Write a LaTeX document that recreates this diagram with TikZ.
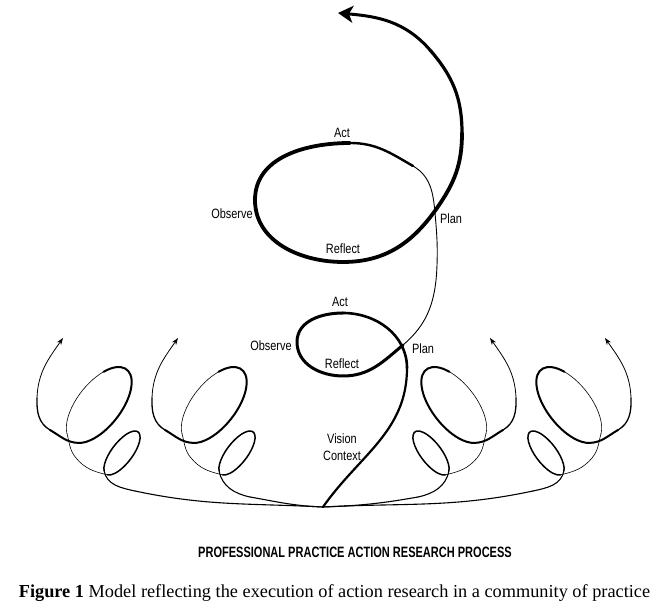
\documentclass[tikz,border=0pt]{standalone}
\usepackage{fontspec}
\setmainfont{Liberation Serif}
\newfontfamily\lab[FakeStretch=0.81]{Liberation Sans}
\newfontfamily\ttl[FakeStretch=0.735]{Liberation Sans}
\usetikzlibrary{arrows.meta}
\tikzset{
  lbl/.style={font=\lab\fontsize{13.5}{15}\selectfont, inner sep=0pt},
  ttlstyle/.style={font=\ttl\bfseries\fontsize{15}{17}\selectfont, inner sep=0pt},
  capstyle/.style={font=\fontsize{18.3}{20}\selectfont, inner sep=0pt},
  curve/.style={line cap=round, line join=round},
  smallhead/.style={-{Stealth[length=7pt,width=5pt]}},
  bighead/.style={-{Stealth[length=15pt,width=17pt,inset=4pt]}}
}
\newcommand\sidespiral{%
  % lower loop (tilted ellipse)
  \begin{scope}[shift={(122,156)},rotate=52.7]
    \coordinate (lA) at (160:26.5pt and 10.5pt);
    \coordinate (lB) at (-170:26.5pt and 10.5pt);
    \draw[curve, line width=1.5pt] (lA) arc[start angle=160,end angle=-170,x radius=26.5pt,y radius=10.5pt];
  \end{scope}
  % upper loop (tilted ellipse)
  \begin{scope}[shift={(99,204)},rotate=52]
    \coordinate (uA) at (160:45pt and 22pt);
    \coordinate (uB) at (50:45pt and 22pt);
    \coordinate (uC) at (-160:45pt and 22pt);
    \draw[curve, line width=0.6pt] (uA) arc[start angle=160,end angle=50,x radius=45pt,y radius=22pt];
    \draw[curve, line width=2pt] (uB) arc[start angle=50,end angle=-160,x radius=45pt,y radius=22pt];
  \end{scope}
  \draw[curve, line width=1.1pt] (tl) to[out=168,in=280] (lA);
  \draw[curve, line width=0.6pt] (lB) to[out=167,in=-50] (76,151) to[out=130,in=285] (uA);
  \draw[curve, line width=2pt] (uC) to[out=178.6,in=-30] (50,179);
  \draw[curve, line width=1.3pt] (50,179) to[out=150,in=268] (37,211);
  \draw[curve, line width=0.8pt, smallhead] (37,211) to[out=88,in=235] (63,271);
}
\begin{document}
\begin{tikzpicture}[x=1pt,y=1pt]
\useasboundingbox (0,0) rectangle (653,609);
\fill[white] (0,0) rectangle (653,609);
\coordinate (P) at (323,102);

% main spiral
\draw[curve, line width=2.2pt] (P) to[out=55,in=270] (407,241);
\draw[curve, line width=2.6pt] (407,241) to[out=90,in=0] (343,296);
\draw[curve, line width=3pt] (343,296) to[out=180,in=90] (297,267) to[out=270,in=180] (343,233) to[out=0,in=220] (403,264);
\draw[curve, line width=0.9pt] (403,264) to[out=40,in=268] (437,344) to[out=88,in=275] (435,396) to[out=95,in=-30] (413,443);
\draw[curve, line width=2.4pt] (413,443) to[out=150,in=0] (350,466);
\draw[curve, line width=3.8pt] (350,466) to[out=180,in=90] (255,409) to[out=270,in=180] (343,347) to[out=0,in=235] (437,401) to[out=55,in=270] (462,476);
\draw[curve, line width=3.2pt] (462,476) to[out=90,in=-49] (430,559);
\draw[curve, line width=3pt, bighead] (430,559) to[out=131,in=-5] (338,596);

% tails to the common point
\coordinate (t1) at (135,118);
\coordinate (t2) at (250,112);
\coordinate (t3) at (418,112);
\coordinate (t4) at (533,118);
\draw[curve, line width=1.1pt] (P) to[out=177,in=-12] (t1);
\draw[curve, line width=1.1pt] (P) to[out=178,in=-10] (t2);
\draw[curve, line width=1.1pt] (P) to[out=2,in=190] (t3);
\draw[curve, line width=1.1pt] (P) to[out=3,in=192] (t4);

% side spirals
\begin{scope}\coordinate (tl) at (135,118);\sidespiral\end{scope}
\begin{scope}[xshift=115pt]\coordinate (tl) at (135,112);\sidespiral\end{scope}
\begin{scope}[xshift=553pt,xscale=-1]\coordinate (tl) at (135,112);\sidespiral\end{scope}
\begin{scope}[xshift=668pt,xscale=-1]\coordinate (tl) at (135,118);\sidespiral\end{scope}

% labels
\node[lbl] (actA) at (342,476) {Act};
\node[lbl] (obsA) at (232,395) {Observe};
\node[lbl] (planA) at (451,390) {Plan};
\node[lbl] (refA) at (343,360) {Reflect};
\node[lbl] (actB) at (340,307) {Act};
\node[lbl] (obsB) at (271,263) {Observe};
\node[lbl] (refB) at (342,245) {Reflect};
\node[lbl] (planB) at (423,260) {Plan};
\node[lbl] (vision) at (342,170) {Vision};
\node[lbl] (context) at (342,153) {Context};
\node[ttlstyle] (title) at (355,57) {PROFESSIONAL PRACTICE ACTION RESEARCH PROCESS};
\node[capstyle] (caption) at (334.5,16) {\textbf{Figure 1} Model reflecting the execution of action research in a community of practice};
\end{tikzpicture}
\end{document}
